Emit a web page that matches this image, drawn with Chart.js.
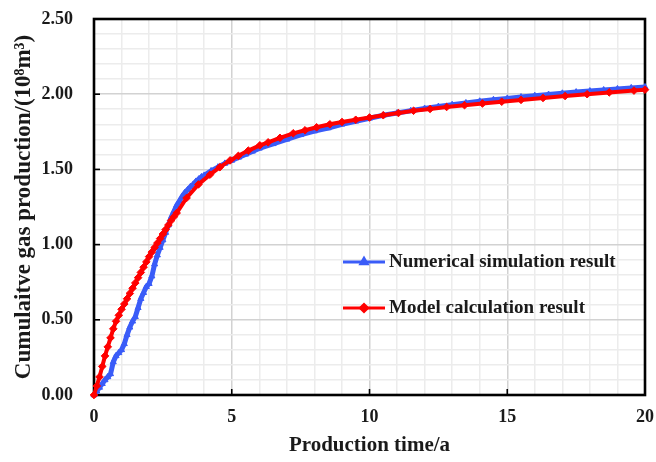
<!DOCTYPE html>
<html>
<head>
<meta charset="utf-8">
<script src="https://cdn.jsdelivr.net/npm/chart.js@4.4.0/dist/chart.umd.min.js"></script>
<style>
html,body{margin:0;padding:0;background:#fff;}
#wrap{width:656px;height:462px;position:relative;}
</style>
</head>
<body>
<div id="wrap"><canvas id="c" width="656" height="462"></canvas></div>
<script>
// ---- data ----
const seriesNames = ["Numerical simulation result", "Model calculation result"];
const xTitle = "Production time/a";
const yTitle = "Cumulaitve gas production/(10\u2078m\u00b3)";
const xTickLabels = [0, 5, 10, 15, 20];
const yTickLabels = [0, 0.5, 1.0, 1.5, 2.0, 2.5];

const numTime = [0,0.1,0.2,0.3,0.4,0.5,0.6,0.7,0.8,0.9,1.0,1.1,1.2,1.3,1.4,1.5,1.6,1.7,1.8,1.9,2.0,
  2.1,2.2,2.3,2.4,2.5,2.6,2.7,2.8,2.9,3.0,3.1,3.2,3.3,3.4,3.5,3.6,3.7,3.8,3.9,4.0,
  4.25,4.5,4.75,5.0,5.25,5.5,5.75,6.0,6.5,7.0,7.5,8.0,8.5,9.0,9.5,10.0,10.5,11.0,11.5,12.0,
  12.5,13.0,13.5,14.0,14.5,15.0,15.5,16.0,16.5,17.0,17.5,18.0,18.5,19.0,19.5,20.0];
const numValues = [0,0.025,0.05,0.075,0.10,0.12,0.14,0.22,0.26,0.28,0.30,0.34,0.40,0.45,0.49,0.52,0.58,0.64,0.68,0.72,0.74,
  0.79,0.87,0.93,0.98,1.03,1.08,1.13,1.18,1.22,1.26,1.29,1.32,1.345,1.365,1.385,1.40,1.42,1.435,1.45,1.46,
  1.49,1.515,1.54,1.56,1.58,1.60,1.62,1.64,1.67,1.70,1.73,1.755,1.775,1.80,1.82,1.84,1.86,1.875,1.89,1.905,
  1.918,1.93,1.942,1.953,1.963,1.972,1.981,1.99,1.998,2.006,2.014,2.021,2.028,2.035,2.042,2.048];

const modelTime = [0,0.1,0.2,0.3,0.4,0.5,0.6,0.7,0.8,0.9,1.0,1.1,1.2,1.3,1.4,1.5,1.6,1.7,1.8,1.9,2.0,
  2.1,2.2,2.3,2.4,2.5,2.6,2.7,2.8,2.9,3.0,3.36,3.79,4.21,4.57,4.94,5.24,5.6,6.02,6.32,6.75,7.23,7.66,
  8.08,8.56,9.0,9.5,10.0,10.5,11.05,11.6,12.2,12.8,13.45,14.1,14.8,15.5,16.3,17.1,17.9,18.7,19.6,20.0];
const modelValues = [0,0.06,0.12,0.19,0.26,0.32,0.38,0.44,0.49,0.53,0.57,0.605,0.64,0.675,0.71,0.745,0.78,0.815,0.85,0.885,0.92,
  0.95,0.98,1.01,1.04,1.07,1.10,1.13,1.16,1.185,1.21,1.31,1.40,1.465,1.515,1.56,1.59,1.625,1.66,1.68,1.71,1.74,1.76,
  1.78,1.80,1.815,1.83,1.845,1.86,1.875,1.89,1.902,1.915,1.927,1.938,1.95,1.962,1.975,1.988,2.0,2.012,2.024,2.03];

const BLUE = '#3a5cf8';
const RED = '#ff0000';
const FONT = "'Liberation Serif','Times New Roman',serif";

function toXY(xs, ys){ return xs.map((x,i)=>({x:x, y:ys[i]})); }
function isMultiple(v, step){ return Math.abs(v/step - Math.round(v/step)) < 1e-6; }
function inList(v, list){ return list.some(t => Math.abs(v - t) < 1e-6); }
function noPad(s){ s.paddingTop = 0; s.paddingBottom = 0; s.paddingLeft = 0; s.paddingRight = 0; }

const framePlugin = {
  id: 'frame',
  beforeDatasetsDraw(chart){
    const {ctx, chartArea:a, scales} = chart;
    ctx.save();
    ctx.strokeStyle = '#000';
    ctx.lineWidth = 1.6;
    yTickLabels.forEach(v=>{
      const p = scales.y.getPixelForValue(v);
      ctx.beginPath(); ctx.moveTo(a.left, p); ctx.lineTo(a.left+6, p); ctx.stroke();
    });
    xTickLabels.forEach(v=>{
      const p = scales.x.getPixelForValue(v);
      ctx.beginPath(); ctx.moveTo(p, a.bottom); ctx.lineTo(p, a.bottom-6); ctx.stroke();
    });
    ctx.lineWidth = 2.6;
    ctx.strokeRect(a.left, a.top, a.right-a.left, a.bottom-a.top);
    ctx.restore();
  }
};

const legendPlugin = {
  id: 'customLegend',
  afterDatasetsDraw(chart){
    const {ctx, chartArea:a} = chart;
    const items = [
      {label: seriesNames[0], color: BLUE, style: 'triangle'},
      {label: seriesNames[1], color: RED, style: 'rectRot'}
    ];
    const x0 = a.left + 249, x1 = a.left + 291;
    const ys = [a.top + 243, a.top + 289];
    ctx.save();
    items.forEach((it, i)=>{
      const y = ys[i];
      ctx.strokeStyle = it.color; ctx.lineWidth = 3;
      ctx.beginPath(); ctx.moveTo(x0, y); ctx.lineTo(x1, y); ctx.stroke();
      ctx.fillStyle = it.color;
      Chart.helpers.drawPoint(ctx, {pointStyle: it.style, radius: 3.5, borderWidth: 1}, (x0+x1)/2, y);
      ctx.fillStyle = '#1a1a1a';
      ctx.font = "bold 19px " + FONT;
      ctx.textBaseline = 'middle';
      ctx.textAlign = 'left';
      ctx.fillText(it.label, x1 + 4, y);
    });
    ctx.restore();
  }
};

new Chart(document.getElementById('c'), {
  type: 'line',
  data: {
    datasets: [
      {
        label: seriesNames[1],
        data: toXY(modelTime, modelValues),
        borderColor: RED, backgroundColor: RED,
        borderWidth: 4, pointStyle: 'rectRot', pointRadius: 3.8,
        pointBorderWidth: 1, pointBorderColor: RED, pointBackgroundColor: RED,
        tension: 0, clip: false
      },
      {
        label: seriesNames[0],
        data: toXY(numTime, numValues),
        borderColor: BLUE, backgroundColor: BLUE,
        borderWidth: 5, pointStyle: 'triangle', pointRadius: 3.5,
        pointBorderWidth: 1, pointBorderColor: BLUE, pointBackgroundColor: BLUE,
        tension: 0, clip: false
      }
    ]
  },
  options: {
    responsive: false,
    animation: false,
    devicePixelRatio: 1,
    layout: { padding: { top: 19, right: 11, left: 0, bottom: 0 } },
    plugins: { legend: { display: false }, tooltip: { enabled: false } },
    scales: {
      x: {
        type: 'linear', min: 0, max: 20,
        afterFit(s){ s.height = 67; noPad(s); },
        ticks: {
          stepSize: 1, autoSkip: false, maxRotation: 0, padding: 12,
          color: '#1a1a1a', font: { family: FONT, size: 18, weight: 'bold' },
          callback: v => inList(v, xTickLabels) ? String(Math.round(v)) : ''
        },
        grid: {
          drawTicks: false,
          color: c => (c.tick && isMultiple(c.tick.value, 5)) ? '#d2d2d2' : '#ececec',
          lineWidth: 1.5
        },
        border: { display: false },
        title: {
          display: true, text: xTitle, color: '#1a1a1a',
          font: { family: FONT, size: 21, weight: 'bold' },
          padding: { top: 0, bottom: 4 }
        }
      },
      y: {
        type: 'linear', min: 0, max: 2.5,
        afterFit(s){ s.width = 94; noPad(s); },
        ticks: {
          stepSize: 0.1, autoSkip: false, padding: 21,
          color: '#1a1a1a', font: { family: FONT, size: 18, weight: 'bold' },
          callback: v => inList(v, yTickLabels) ? v.toFixed(2) : ''
        },
        grid: {
          drawTicks: false,
          color: c => (c.tick && isMultiple(c.tick.value, 0.5)) ? '#d2d2d2' : '#ececec',
          lineWidth: 1.5
        },
        border: { display: false },
        title: {
          display: true, text: yTitle, color: '#1a1a1a',
          font: { family: FONT, size: 23, weight: 'bold' },
          padding: { top: 10, bottom: 0 }
        }
      }
    }
  },
  plugins: [framePlugin, legendPlugin]
});
</script>
</body>
</html>
